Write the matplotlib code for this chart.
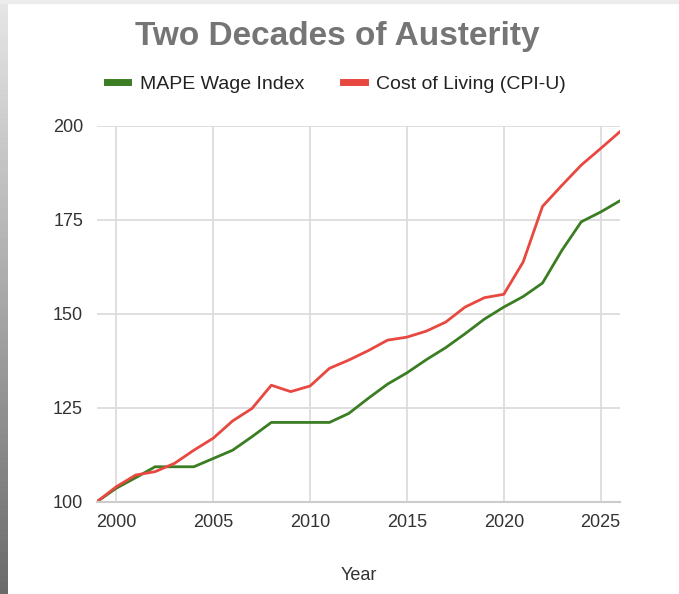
import matplotlib.pyplot as plt
from matplotlib.lines import Line2D
import numpy as np

plt.rcParams['font.family'] = ['Liberation Sans', 'DejaVu Sans']

years = list(range(1999, 2027))
wage = [100, 103.6, 106.4, 109.3, 109.3, 109.3, 111.5, 113.7, 117.3, 121.1,
        121.1, 121.1, 121.1, 123.5, 127.5, 131.3, 134.3, 137.8, 141.0, 144.7,
        148.6, 151.8, 154.6, 158.2, 166.9, 174.5, 177.1, 180.1]
cpi = [100, 104.0, 107.1, 108.0, 110.2, 113.7, 116.9, 121.5, 124.8, 131.0,
       129.3, 130.8, 135.5, 137.7, 140.2, 143.0, 143.8, 145.4, 147.8, 151.8,
       154.3, 155.2, 163.8, 178.6, 184.2, 189.6, 194.0, 198.5]
x_ticks = [2000, 2005, 2010, 2015, 2020, 2025]
y_ticks = [100, 125, 150, 175, 200]

green = "#3b7d23"
red = "#e8483f"

fig = plt.figure(figsize=(6.79, 5.94), dpi=100)
fig.patch.set_facecolor("white")

# screenshot edge: grey strip on the left, light band on top
strip = fig.add_axes([0, 0, 8 / 679, 1])
grad = np.linspace(0.9, 0.42, 100).reshape(-1, 1)
strip.imshow(grad, cmap="gray", vmin=0, vmax=1, aspect="auto")
strip.axis("off")
fig.patches.append(plt.Rectangle((0, 1 - 3 / 594), 1, 3 / 594,
                                 transform=fig.transFigure, color="#ececec"))

ax = fig.add_axes([97 / 679, 1 - 501.7 / 594, 523 / 679, 375.7 / 594])
ax.plot(years, wage, color=green, lw=2.0, solid_joinstyle="round")
ax.plot(years, cpi, color=red, lw=2.0, solid_joinstyle="round")

ax.set_xlim(1999, 2026)
ax.set_ylim(100, 200)
ax.set_xticks(x_ticks)
ax.set_yticks(y_ticks)
ax.grid(True, color="#dcdcdc", lw=1.3)
ax.set_axisbelow(True)
for s in ["top", "right", "left"]:
    ax.spines[s].set_visible(False)
ax.spines["bottom"].set_color("#cccccc")
ax.spines["bottom"].set_linewidth(1.5)
ax.tick_params(length=0, labelsize=13, labelcolor="#333333")
ax.tick_params(axis="x", pad=9)
ax.tick_params(axis="y", pad=10)
ax.set_xlabel("Year", fontsize=13, color="#333333", labelpad=26)

fig.text(0.4963, 1 - 37 / 594, "Two Decades of Austerity", ha="center", va="center",
         fontsize=24, fontweight="bold", color="#757575")

handles = [Line2D([], [], color=green, lw=5), Line2D([], [], color=red, lw=5)]
fig.legend(handles, ["MAPE Wage Index", "Cost of Living (CPI-U)"],
           loc="center", bbox_to_anchor=(336.5 / 679, 1 - 84 / 594), ncol=2,
           frameon=False, fontsize=14, handlelength=1.1, handletextpad=0.6,
           columnspacing=2.0, labelcolor="#222222")

fig.savefig("out.png", dpi=100)
